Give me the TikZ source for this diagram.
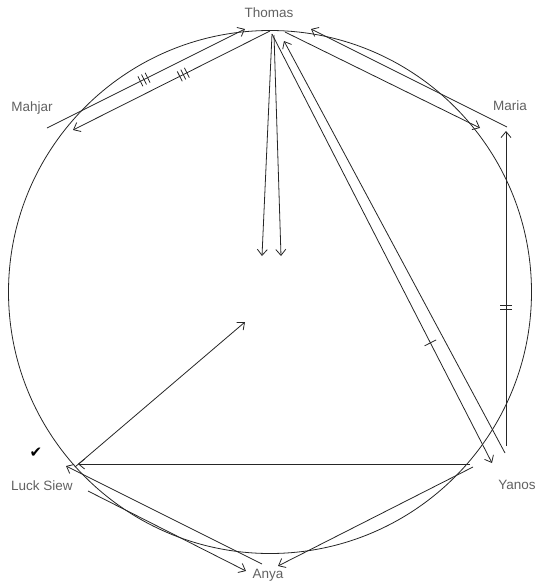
\documentclass[tikz,border=0pt]{standalone}
\usepackage{fontspec}
\setmainfont{Liberation Sans}
\newfontfamily\symfont{DejaVu Sans}
\usetikzlibrary{arrows.meta,decorations.markings}
\begin{document}
\begin{tikzpicture}[x=1pt,y=-1pt,
  lbl/.style={text=black!62, font=\fontsize{13.5}{16}\selectfont, inner sep=0pt},
  edge/.style={draw=black!85, line width=0.8pt},
  arr/.style={edge, -{Straight Barb[length=6pt,width=10pt,line width=0.8pt]}},
  tickone/.style={postaction={decorate}, decoration={markings, mark=at position #1 with {\draw[-,black!85,line width=0.8pt] (0pt,-6.5pt)--(0pt,6.5pt);}}},
  ticktwo/.style={postaction={decorate}, decoration={markings, mark=at position #1 with {\draw[-,black!85,line width=0.8pt] (-2pt,-6pt)--(-2pt,6pt) (2pt,-6pt)--(2pt,6pt);}}},
  tickthree/.style={postaction={decorate}, decoration={markings, mark=at position #1 with {\draw[-,black!85,line width=0.8pt] (-4pt,-5.5pt)--(-4pt,5.5pt) (0pt,-5.5pt)--(0pt,5.5pt) (4pt,-5.5pt)--(4pt,5.5pt);}}}
]
\useasboundingbox (0,0) rectangle (538,584);

% ring
\draw[edge] (270,292) circle[radius=261.5pt];

% labels
\node[lbl] (thomas) at (269,13) {Thomas};
\node[lbl] (mahjar) at (32,108) {Mahjar};
\node[lbl] (maria) at (510,106) {Maria};
\node[lbl] (lucksiew) at (42,486) {Luck Siew};
\node[lbl] (yanos) at (517,485) {Yanos};
\node[lbl] (anya) at (268,575) {Anya};
\node[inner sep=0pt, font=\symfont\fontsize{15}{17}\selectfont] (check) at (36,453) {✔};

% end points
\coordinate (T0) at (270,31);
\coordinate (T1) at (272,34);
\coordinate (T2) at (274,35);
\coordinate (T3) at (285,32);
\coordinate (TA) at (245,29);
\coordinate (TF) at (311,29);
\coordinate (TH) at (284,41);
\coordinate (MA) at (47,128);
\coordinate (MB) at (73,130);
\coordinate (ME) at (480,128);
\coordinate (MF) at (507,127);
\coordinate (MG) at (506,131);
\coordinate (YH) at (492,463);
\coordinate (YS) at (505,453);
\coordinate (YG) at (506,446);
\coordinate (YI) at (470,464);
\coordinate (YM) at (473,467);
\coordinate (LI) at (78,464);
\coordinate (LJ) at (75,467);
\coordinate (LK) at (66,466);
\coordinate (LL) at (88,491);
\coordinate (C1) at (262,256);
\coordinate (C2) at (281,256);
\coordinate (CJ) at (245,322);
\coordinate (AK) at (262,564);
\coordinate (AL) at (246,571);
\coordinate (AM) at (278,566);

% connectors
\draw[arr, tickthree=0.49] (MA) -- (TA);
\draw[arr, tickthree=0.44] (T0) -- (MB);
\draw[arr] (T1) -- (C1);
\draw[arr] (T2) -- (C2);
\draw[arr] (T3) -- (ME);
\draw[arr] (MF) -- (TF);
\draw[arr, ticktwo=0.44] (YG) -- (MG);
\draw[arr, tickone=0.72] (T1) -- (YH);
\draw[arr] (YS) -- (TH);
\draw[arr] (YI) -- (LI);
\draw[arr] (LJ) -- (CJ);
\draw[arr] (AK) -- (LK);
\draw[arr] (LL) -- (AL);
\draw[arr] (YM) -- (AM);
\end{tikzpicture}
\end{document}
